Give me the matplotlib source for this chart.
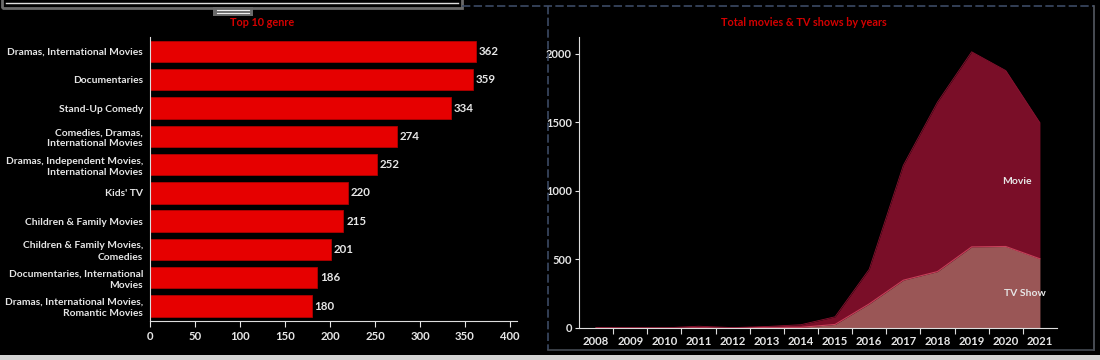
import numpy as np
import matplotlib.pyplot as plt
from matplotlib.patches import Rectangle
from matplotlib.lines import Line2D

genres = [
    "Dramas, International Movies",
    "Documentaries",
    "Stand-Up Comedy",
    "Comedies, Dramas,\nInternational Movies",
    "Dramas, Independent Movies,\nInternational Movies",
    "Kids' TV",
    "Children & Family Movies",
    "Children & Family Movies,\nComedies",
    "Documentaries, International\nMovies",
    "Dramas, International Movies,\nRomantic Movies",
]
genre_counts = [362, 359, 334, 274, 252, 220, 215, 201, 186, 180]

years = [2008, 2009, 2010, 2011, 2012, 2013, 2014, 2015, 2016, 2017, 2018, 2019, 2020, 2021]
movies = [1, 2, 1, 13, 3, 6, 19, 56, 253, 839, 1237, 1424, 1284, 993]
tv_shows = [1, 0, 0, 0, 0, 5, 5, 26, 176, 349, 412, 592, 595, 505]

W, H = 1100, 360
BG = "black"
TXT = "#e6e6e6"
TITLE = "#d40000"

plt.rcParams["font.family"] = ["Lato", "DejaVu Sans"]
plt.rcParams["font.weight"] = "bold"

fig = plt.figure(figsize=(W / 100, H / 100), dpi=100, facecolor=BG)


def box(x0, y0, x1, y1):
    # pixel box (top-left origin) -> figure fraction rect
    return [x0 / W, 1 - y1 / H, (x1 - x0) / W, (y1 - y0) / H]


def fx(x):
    return x / W


def fy(y):
    return 1 - y / H


# ---- left: top 10 genre ----
ax1 = fig.add_axes(box(150, 37, 517, 321), facecolor=BG)
pos = np.arange(len(genres))
ax1.barh(pos, genre_counts, height=0.76, color="#e60000", edgecolor="#b00000", linewidth=0.6)
for p, v in zip(pos, genre_counts):
    ax1.text(v + 3, p, str(v), color=TXT, fontsize=8.3, va="center", ha="left")
ax1.set_xlim(0, 407.8)
ax1.set_ylim(9.53, -0.51)
ax1.set_yticks(pos)
ax1.set_yticklabels(genres, fontsize=7.4, color=TXT, linespacing=1.3)
ax1.set_xticks(range(0, 401, 50))
ax1.tick_params(axis="x", colors=TXT, labelsize=8.2, length=4, width=0.8, pad=3)
ax1.tick_params(axis="y", length=0, pad=5)
for s in ["top", "right"]:
    ax1.spines[s].set_visible(False)
ax1.spines["left"].set_color("#dddddd")
ax1.spines["bottom"].set_color("#dddddd")
fig.text(fx(262), fy(22), "Top 10 genre", color=TITLE, fontsize=7.8, ha="center", va="center")

# ---- right: movies & tv shows by year ----
ax2 = fig.add_axes(box(579, 37, 1057, 328), facecolor=BG)
yrs = np.array(years)
tv = np.array(tv_shows)
total = tv + np.array(movies)
ax2.fill_between(yrs, tv, total, color="#7a0e28", linewidth=0)
ax2.fill_between(yrs, 0, tv, color="#9a5656", linewidth=0)
ax2.plot(yrs, tv, color="#c8405a", linewidth=0.8)
ax2.plot(yrs, total, color="#8a1230", linewidth=0.6)
ax2.text(2020.33, 1066, "Movie", color=TXT, fontsize=7.5, ha="center", va="center")
ax2.text(2020.56, 255, "TV Show", color=TXT, fontsize=7.5, ha="center", va="center")
ax2.set_xlim(2007.5, 2021.5)
ax2.set_ylim(0, 2124)
ax2.set_xticks(years)
ax2.set_xticklabels([str(y) for y in years])
ax2.set_xticks(np.arange(2008.5, 2021, 1), minor=True)
ax2.tick_params(axis="x", which="major", length=0, colors=TXT, labelsize=8.2, pad=6)
ax2.tick_params(axis="x", which="minor", length=4, width=0.8, color="#dddddd")
ax2.set_yticks([0, 500, 1000, 1500, 2000])
ax2.tick_params(axis="y", colors=TXT, labelsize=8.0, length=3, width=0.8, pad=2)
for s in ["top", "right"]:
    ax2.spines[s].set_visible(False)
ax2.spines["left"].set_color("#dddddd")
ax2.spines["bottom"].set_color("#dddddd")
fig.text(fx(804), fy(22), "Total movies & TV shows by years", color=TITLE, fontsize=7.8,
         ha="center", va="center")

# ---- dashboard frame decorations ----
dash = "#3c4a64"
fig.add_artist(Line2D([fx(462), fx(1094)], [fy(6), fy(6)], color=dash, lw=1.2, ls=(0, (5, 2))))
fig.add_artist(Line2D([fx(548), fx(548)], [fy(6), fy(350)], color=dash, lw=1.2, ls=(0, (5, 2))))
fig.add_artist(Line2D([fx(1094), fx(1094)], [fy(6), fy(350)], color="#555a62", lw=1.2))
fig.add_artist(Line2D([fx(548), fx(1094)], [fy(350), fy(350)], color="#444a52", lw=1.2))
fig.add_artist(Rectangle((fx(2), fy(8)), fx(460), fy(-4) - fy(8), transform=fig.transFigure,
                         facecolor="none", edgecolor="#6a6a6a", lw=2))
fig.add_artist(Line2D([fx(6), fx(458)], [fy(3), fy(3)], color="#dddddd", lw=1))
fig.add_artist(Rectangle((fx(213), fy(16)), fx(40), fy(7) - fy(16), transform=fig.transFigure,
                         facecolor="#6a6a6a", edgecolor="none"))
for yy in (10, 13):
    fig.add_artist(Line2D([fx(217), fx(249)], [fy(yy), fy(yy)], color="#eeeeee", lw=0.8))
fig.add_artist(Rectangle((0, 0), 1, fy(355), transform=fig.transFigure,
                         facecolor="#d4d4d4", edgecolor="none"))

fig.savefig("out.png", dpi=100, facecolor=BG)
